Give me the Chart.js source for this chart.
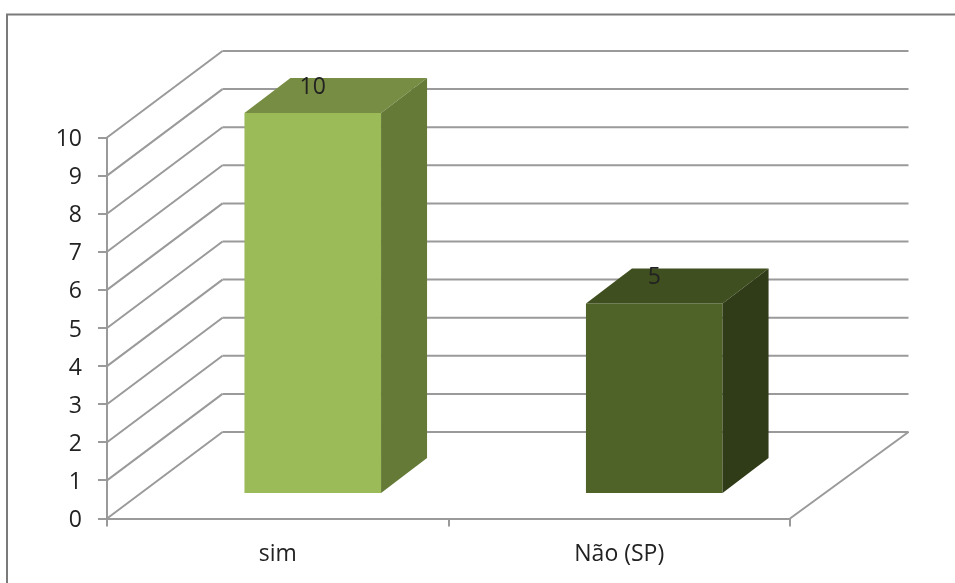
<!DOCTYPE html>
<html>
<head>
<meta charset="utf-8">
<title>Grafico</title>
<script src="https://cdn.jsdelivr.net/npm/chart.js@4"></script>
<style>
  html, body { margin: 0; padding: 0; background: #fff; overflow: hidden; }
  #myChart { display: block; filter: blur(0.6px); }
</style>
</head>
<body>
<canvas id="myChart" width="955" height="583"></canvas>
<script>
let categorias = ["sim", "Não (SP)"];
let valores = [10, 5];
let coresFrente = ["#9bbb59", "#4f6228"];
let coresTopo = ["#788d44", "#3f4f1f"];
let coresLado = ["#667a38", "#303b18"];

let corLinha = "#9a9a9a";
let corTexto = "#222222";
let fonte = "'Open Sans', sans-serif";

// perspectiva do grafico 3D
let fundoX = 115.5;
let fundoY = -86.5;
let barraX = 35;
let barraY = -24.5;
let ladoX = 46;
let ladoY = -35;

function linha(ctx, x1, y1, x2, y2) {
  ctx.beginPath();
  ctx.moveTo(x1, y1);
  ctx.lineTo(x2, y2);
  ctx.stroke();
}

function face(ctx, pontos, cor) {
  ctx.fillStyle = cor;
  ctx.beginPath();
  pontos.forEach((p, i) => (i === 0 ? ctx.moveTo(p[0], p[1]) : ctx.lineTo(p[0], p[1])));
  ctx.closePath();
  ctx.fill();
}

let plugin3d = {
  id: "plugin3d",
  beforeDraw(chart) {
    let ctx = chart.ctx;
    ctx.save();
    ctx.strokeStyle = "#7a7a7a";
    ctx.lineWidth = 2;
    ctx.beginPath();
    ctx.moveTo(7, 583);
    ctx.lineTo(7, 14.5);
    ctx.lineTo(955, 14.5);
    ctx.stroke();
    ctx.restore();
  },
  beforeDatasetsDraw(chart) {
    let ctx = chart.ctx;
    let { left, right } = chart.chartArea;
    let escalaY = chart.scales.y;

    ctx.save();
    ctx.strokeStyle = corLinha;
    ctx.lineWidth = 2;
    escalaY.ticks.forEach((tick) => {
      let y = escalaY.getPixelForValue(tick.value);
      linha(ctx, left, y, left + fundoX, y + fundoY);
      linha(ctx, left + fundoX, y + fundoY, right + fundoX + 3, y + fundoY);
    });
    let y0 = escalaY.getPixelForValue(0);
    linha(ctx, right, y0, right + fundoX + 3, y0 + fundoY);
    ctx.restore();

    // as barras nativas ficam deslocadas para dentro do piso
    ctx.save();
    ctx.translate(barraX, barraY);
  },
  afterDatasetsDraw(chart) {
    let ctx = chart.ctx;
    let barras = chart.getDatasetMeta(0).data;

    barras.forEach((barra, i) => {
      let { x, y, base, width } = barra.getProps(["x", "y", "base", "width"], true);
      let esq = x - width / 2;
      let dir = x + width / 2;
      face(ctx, [[esq, y], [dir, y], [dir + ladoX, y + ladoY], [esq + ladoX, y + ladoY]], coresTopo[i]);
      face(ctx, [[dir, y], [dir + ladoX, y + ladoY], [dir + ladoX, base + ladoY], [dir, base]], coresLado[i]);
    });
    ctx.restore();

    ctx.save();
    ctx.fillStyle = corTexto;
    ctx.font = "23px " + fonte;
    ctx.textAlign = "center";
    ctx.textBaseline = "middle";
    barras.forEach((barra, i) => {
      let { x, y } = barra.getProps(["x", "y"], true);
      ctx.fillText(String(valores[i]), x + barraX, y + barraY - 26);
    });
    ctx.restore();
  },
};

let conf = {
  type: "bar",
  data: {
    labels: categorias,
    datasets: [
      {
        data: valores,
        backgroundColor: coresFrente,
        borderWidth: 0,
        barPercentage: 0.4,
        categoryPercentage: 1,
      },
    ],
  },
  options: {
    responsive: false,
    animation: false,
    layout: { autoPadding: false, padding: { top: 137.5, right: 165, bottom: 0, left: 0 } },
    plugins: { legend: { display: false }, tooltip: { enabled: false } },
    scales: {
      x: {
        afterFit(escala) {
          escala.height = 64.5;
        },
        border: { color: corLinha, width: 2 },
        grid: { drawOnChartArea: false, color: corLinha, lineWidth: 2, tickLength: 8 },
        ticks: { color: corTexto, font: { family: fonte, size: 23 }, padding: 14, maxRotation: 0 },
      },
      y: {
        min: 0,
        max: 10,
        afterFit(escala) {
          escala.width = 107;
        },
        border: { color: corLinha, width: 2 },
        grid: { drawOnChartArea: false, color: corLinha, lineWidth: 2, tickLength: 9 },
        ticks: { stepSize: 1, color: corTexto, font: { family: fonte, size: 23 }, padding: 16, labelOffset: 2 },
      },
    },
  },
  plugins: [plugin3d],
};

let grafico = new Chart(document.querySelector("#myChart"), conf);
</script>
</body>
</html>
